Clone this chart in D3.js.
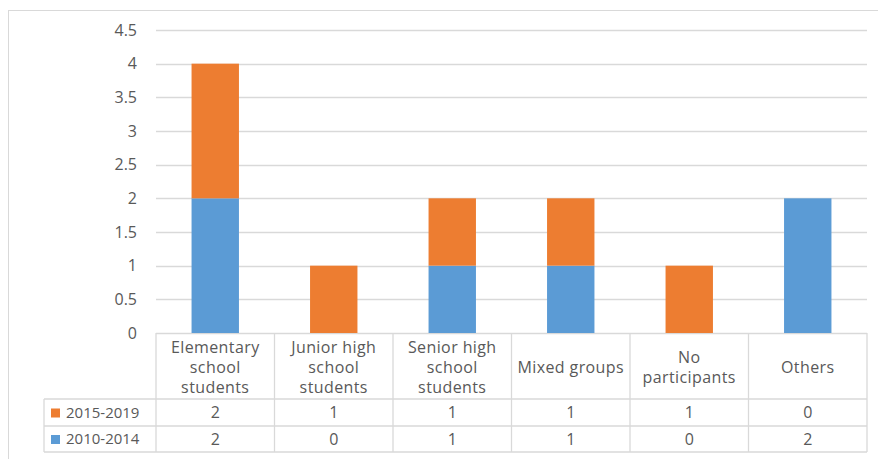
<!DOCTYPE html>
<html>
<head>
<meta charset="utf-8">
<script src="https://cdn.jsdelivr.net/npm/d3@7"></script>
<style>
  html, body { margin: 0; padding: 0; background: #fff; }
  svg { display: block; }
  text { font-family: "Open Sans", "Noto Sans", sans-serif; fill: #595959; }
</style>
</head>
<body>
<svg id="chart" width="878" height="459"></svg>
<script>
// Categories (three-line labels) and stacked series values
const categories = [
  ["Elementary", "school", "students"],
  ["Junior high", "school", "students"],
  ["Senior high", "school", "students"],
  ["Mixed groups"],
  ["No", "participants"],
  ["Others"]
];
const seriesNames = ["2010-2014", "2015-2019"];
const values2010 = [2, 0, 1, 1, 0, 2];
const values2015 = [2, 1, 1, 1, 1, 0];
const yTicks = [0, 0.5, 1, 1.5, 2, 2.5, 3, 3.5, 4, 4.5];
const colors = { "2010-2014": "#5B9BD5", "2015-2019": "#ED7D31" };

const svg = d3.select("#chart");
const W = 878, H = 459;

// outer chart frame
svg.append("rect")
  .attr("x", 8.5).attr("y", 10.5)
  .attr("width", W + 10).attr("height", H + 10)
  .attr("fill", "#fff").attr("stroke", "#d9d9d9").attr("stroke-width", 1);

const plot = { left: 156, right: 867, top: 30, bottom: 333 };
const keys = categories.map((d, i) => i);

const x = d3.scaleBand().domain(keys).range([plot.left, plot.right]).paddingInner(0).paddingOuter(0);
const y = d3.scaleLinear().domain([0, 4.5]).range([plot.bottom, plot.top]);

// gridlines
svg.append("g").selectAll("line").data(yTicks).join("line")
  .attr("x1", plot.left).attr("x2", plot.right)
  .attr("y1", d => Math.round(y(d)) + 0.5).attr("y2", d => Math.round(y(d)) + 0.5)
  .attr("stroke", "#d9d9d9").attr("stroke-width", 1.3);

// y axis labels
const yAxis = d3.axisLeft(y).tickValues(yTicks).tickSize(0).tickPadding(0).tickFormat(d3.format("~g"));
const gy = svg.append("g").attr("transform", `translate(${plot.left - 19},0)`).call(yAxis);
gy.select(".domain").remove();
gy.selectAll("text").attr("font-size", 16).attr("fill", "#595959")
  .style("font-family", '"Open Sans", sans-serif');

// stacked bars
const rows = keys.map(i => ({ i, "2010-2014": values2010[i], "2015-2019": values2015[i] }));
const stack = d3.stack().keys(seriesNames)(rows);
const barW = x.bandwidth() * 0.4;

svg.append("g").selectAll("g").data(stack).join("g")
  .attr("fill", s => colors[s.key])
  .selectAll("rect").data(s => s).join("rect")
  .attr("x", d => x(d.data.i) + (x.bandwidth() - barW) / 2)
  .attr("width", barW)
  .attr("y", d => y(d[1]))
  .attr("height", d => y(d[0]) - y(d[1]));

// data table below the axis
const tbl = { legendLeft: 44, headerBottom: 399, row1Bottom: 426, row2Bottom: 452 };
const grid = svg.append("g").attr("stroke", "#d9d9d9").attr("stroke-width", 1.3).attr("fill", "none");

// vertical lines between category columns
keys.concat([keys.length]).forEach(k => {
  const xv = k < keys.length ? x(k) : plot.right;
  grid.append("line").attr("x1", xv).attr("x2", xv)
    .attr("y1", plot.bottom).attr("y2", tbl.row2Bottom);
});
// legend column left edge
grid.append("line").attr("x1", tbl.legendLeft).attr("x2", tbl.legendLeft)
  .attr("y1", tbl.headerBottom).attr("y2", tbl.row2Bottom);
// horizontal lines
[tbl.headerBottom, tbl.row1Bottom, tbl.row2Bottom].forEach(yy => {
  grid.append("line").attr("x1", tbl.legendLeft).attr("x2", plot.right)
    .attr("y1", yy).attr("y2", yy);
});

// header category labels
const header = svg.append("g");
categories.forEach((lines, i) => {
  const cx = x(i) + x.bandwidth() / 2;
  const mid = (plot.bottom + tbl.headerBottom) / 2 + 1;
  const lh = 20;
  lines.forEach((t, j) => {
    header.append("text")
      .attr("x", cx)
      .attr("y", mid + (j - (lines.length - 1) / 2) * lh)
      .attr("dy", "0.35em")
      .attr("text-anchor", "middle")
      .attr("font-size", 16)
      .attr("letter-spacing", 0.4)
      .text(t);
  });
});

// value rows (2015-2019 on top, 2010-2014 below), with legend keys
const tableRows = [
  { name: "2015-2019", vals: values2015, top: tbl.headerBottom, bottom: tbl.row1Bottom },
  { name: "2010-2014", vals: values2010, top: tbl.row1Bottom, bottom: tbl.row2Bottom }
];
tableRows.forEach(r => {
  const cy = (r.top + r.bottom) / 2;
  svg.append("rect")
    .attr("x", 51).attr("y", cy - 4).attr("width", 9).attr("height", 9)
    .attr("fill", colors[r.name]);
  svg.append("text")
    .attr("x", 66).attr("y", cy).attr("dy", "0.35em")
    .attr("font-size", 15).text(r.name);
  r.vals.forEach((v, i) => {
    svg.append("text")
      .attr("x", x(i) + x.bandwidth() / 2).attr("y", cy).attr("dy", "0.35em")
      .attr("text-anchor", "middle").attr("font-size", 16).text(v);
  });
});
</script>
</body>
</html>
